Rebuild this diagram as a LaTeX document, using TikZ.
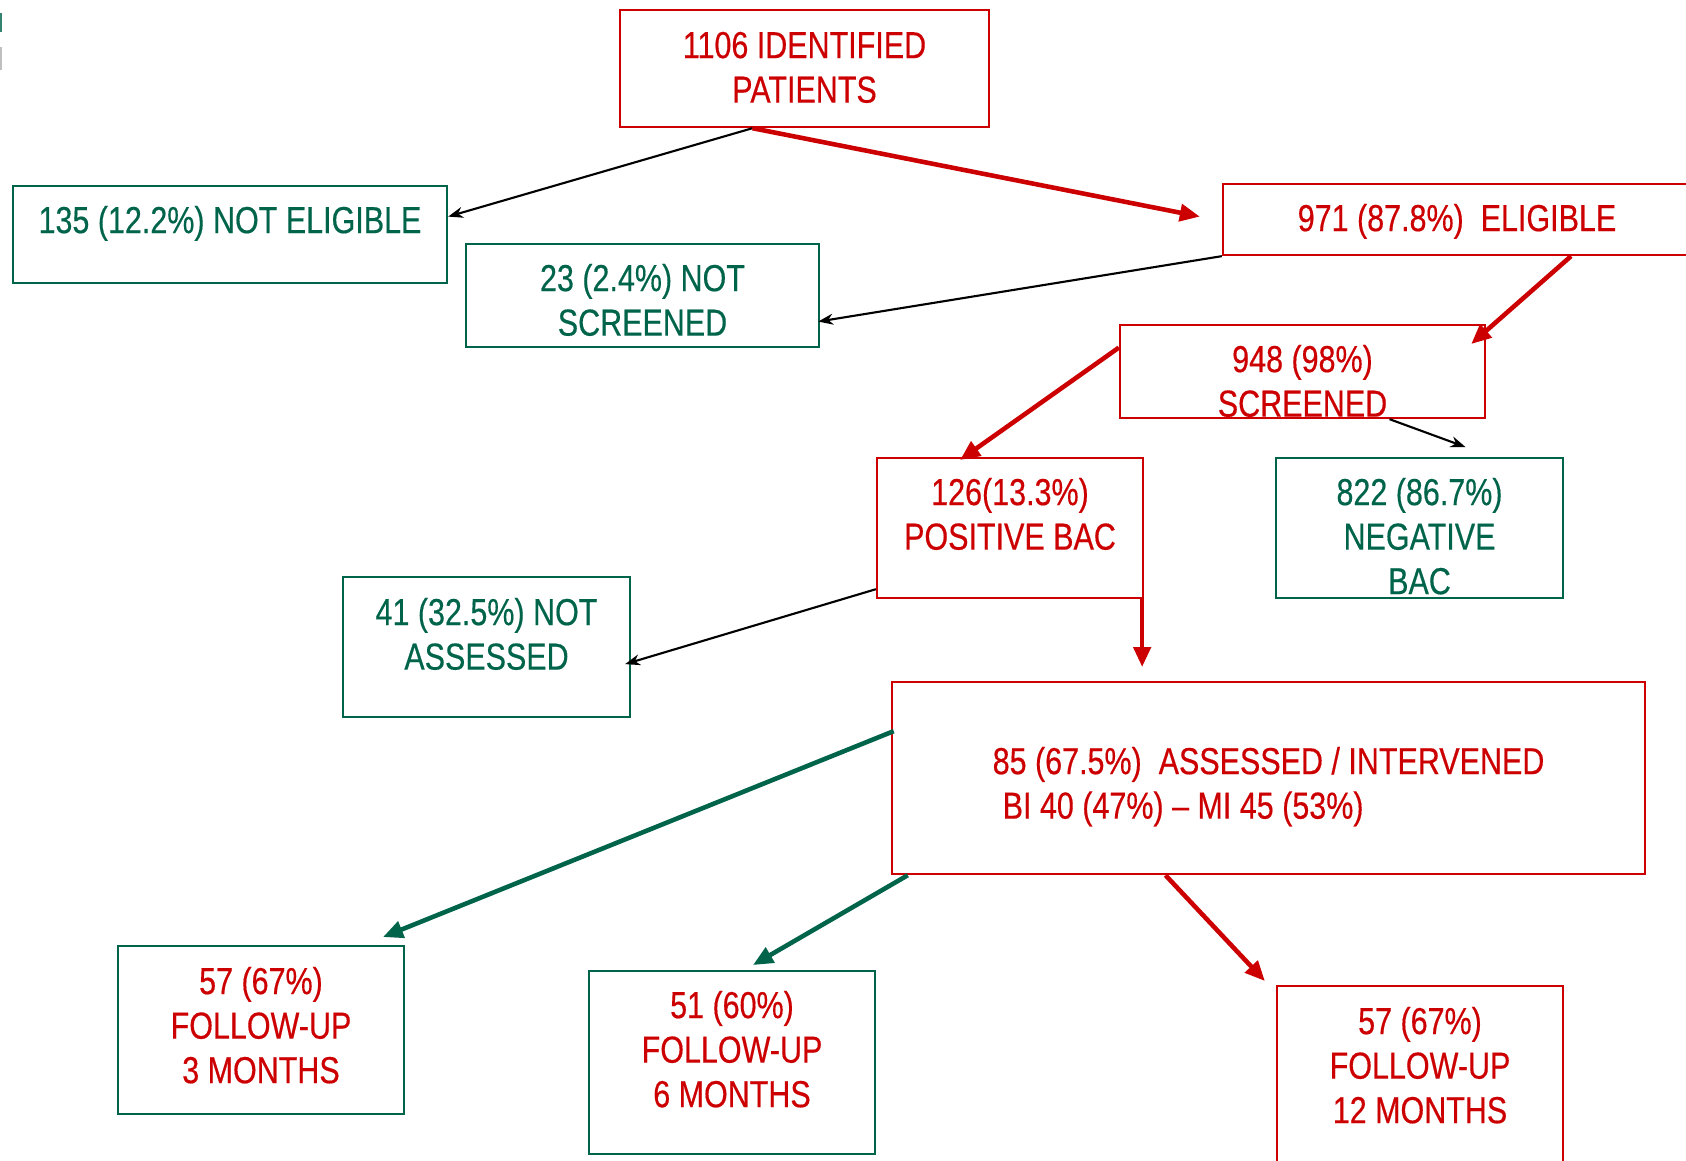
\documentclass[tikz,border=0pt]{standalone}
\usepackage{fontspec}
\setmainfont[FakeStretch=0.81,FakeBold=0.4]{Liberation Sans}
\usetikzlibrary{positioning,arrows.meta,calc}
\definecolor{bacred}{RGB}{204,0,0}
\definecolor{bacgreen}{RGB}{0,100,75}

\begin{document}
\begin{tikzpicture}[x=0.01cm,y=-0.01cm,
  flowbox/.style={draw,line width=0.6pt,inner sep=0pt,anchor=north,align=center,
    font=\fontsize{10.7}{12.66}\selectfont},
  redbox/.style={flowbox,draw=bacred,text=bacred},
  greenbox/.style={flowbox,draw=bacgreen,text=bacgreen},
  thinarr/.style={-{Stealth[length=0.15cm,width=0.11cm]},line width=0.6pt,black},
  redarr/.style={-{Triangle[length=0.2cm,width=0.17cm]},line width=1.3pt,bacred},
  greenarr/.style={-{Triangle[length=0.2cm,width=0.17cm]},line width=1.3pt,bacgreen}]
\useasboundingbox (0,0) rectangle (1686,1160);
% slide edge marks
\fill[bacgreen!80] (0,13) rectangle (2,32);
\fill[gray!50] (0,47) rectangle (2,70);
% boxes
\node[redbox,minimum width=3.69cm,text height=0.925cm,text depth=0.245cm] (ident) at (804.5,9) {1106 IDENTIFIED\\PATIENTS};
\node[greenbox,minimum width=4.34cm,text height=0.47cm,text depth=0.50cm] (notelig) at (230,185) {135 (12.2\%) NOT ELIGIBLE};
\node[greenbox,minimum width=3.53cm,text height=0.915cm,text depth=0.115cm] (notscr) at (642.5,243) {23 (2.4\%) NOT\\SCREENED};
\node[redbox,minimum width=4.68cm,text height=0.47cm,text depth=0.24cm] (elig) at (1457,183) {971 (87.8\%)~ ELIGIBLE};
\node[redbox,minimum width=3.65cm,text height=0.915cm,text depth=0.015cm] (scr) at (1302.5,324) {948 (98\%)\\SCREENED};
\node[redbox,minimum width=2.66cm,text height=0.915cm,text depth=0.485cm] (pos) at (1010,457) {126(13.3\%)\\POSITIVE BAC};
\node[greenbox,minimum width=2.87cm,text height=1.36cm,text depth=0.04cm] (neg) at (1419.5,457) {822 (86.7\%)\\NEGATIVE\\BAC};
\node[greenbox,minimum width=2.87cm,text height=0.925cm,text depth=0.475cm] (notass) at (486.5,576) {41 (32.5\%) NOT\\ASSESSED};
\node[redbox,align=left,minimum width=7.53cm,text height=1.365cm,text depth=0.555cm] (assess) at (1268.5,681) {85 (67.5\%)~ ASSESSED / INTERVENED\\\hspace*{0.1cm}BI 40 (47\%) -- MI 45 (53\%)};
\node[greenbox,text=bacred,minimum width=2.86cm,text height=1.37cm,text depth=0.31cm] (fu3) at (261,945) {57 (67\%)\\FOLLOW-UP\\3 MONTHS};
\node[greenbox,text=bacred,minimum width=2.86cm,text height=1.36cm,text depth=0.47cm] (fu6) at (732,970) {51 (60\%)\\FOLLOW-UP\\6 MONTHS};
\node[redbox,minimum width=2.86cm,text height=1.37cm,text depth=0.51cm] (fu12) at (1420,985) {57 (67\%)\\FOLLOW-UP\\12 MONTHS};
% connectors
\draw[thinarr] ($(ident.south)+(-52,0)$) -- ($(notelig.east)+(0,-18)$);
\draw[redarr] ($(ident.south)+(-52,0)$) -- ($(elig.west)+(-22,-3)$);
\draw[thinarr] (elig.south west) -- ($(notscr.east)+(-2,26)$);
\draw[redarr] ($(elig.south)+(114,0)$) -- ($(scr.north east)+(-15,20)$);
\draw[redarr] ($(scr.west)+(0,-24)$) -- ($(pos.north)+(-50,3)$);
\draw[thinarr] ($(scr.south)+(87,0)$) -- ($(neg.north)+(46,-10)$);
\draw[thinarr] ($(pos.south west)+(0,-10)$) -- ($(notass.east)+(-6,17)$);
\draw[redarr] ($(pos.south east)+(-2,0)$) -- ($(pos.south east |- assess.north)+(-2,-14)$);
\draw[greenarr] ($(assess.west)+(3,-47)$) -- ($(fu3.north)+(122,-8)$);
\draw[greenarr] ($(assess.south west)+(17,0)$) -- ($(fu6.north)+(21,-5)$);
\draw[redarr] ($(assess.south)+(-103,0)$) -- ($(fu12.north west)+(-11,-4)$);
\end{tikzpicture}
\end{document}
